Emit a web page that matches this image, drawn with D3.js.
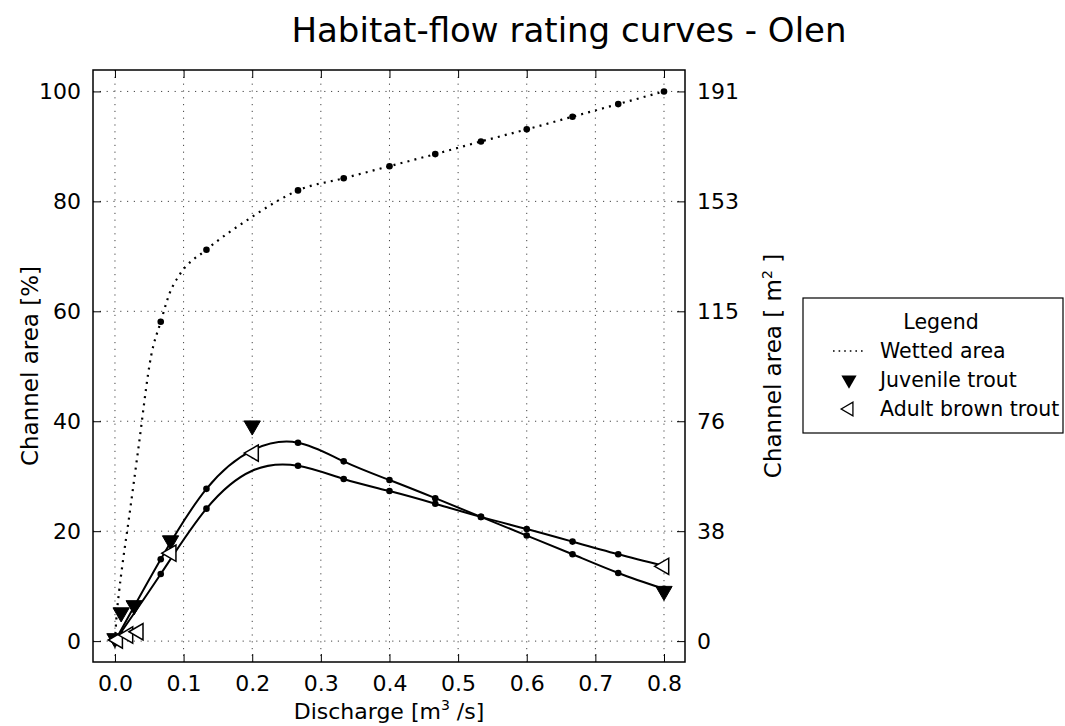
<!DOCTYPE html>
<html>
<head>
<meta charset="utf-8">
<script src="https://cdn.jsdelivr.net/npm/d3@7"></script>
<style>
  html, body { margin: 0; padding: 0; background: #fff; }
  svg { display: block; font-family: "DejaVu Sans", sans-serif; }
</style>
</head>
<body>
<svg id="chart" width="1065" height="726"></svg>
<script>
// ---------------- data ----------------
const title = "Habitat-flow rating curves - Olen";
const xTicks = [0.0, 0.1, 0.2, 0.3, 0.4, 0.5, 0.6, 0.7, 0.8];
const yTicks = [0, 20, 40, 60, 80, 100];
const yRightLabels = ["0", "38", "76", "115", "153", "191"];

// habitat curve samples (0.2 sample, no dot drawn there)
const curveX = [0, 0.0667, 0.1333, 0.2, 0.2667, 0.3333, 0.4, 0.4667, 0.5333, 0.6, 0.6667, 0.7333, 0.8];
const juvenileCurve = [0, 14.9, 27.7, 34.7, 36.1, 32.7, 29.3, 26.0, 22.6, 19.2, 15.8, 12.4, 9.5];
const adultCurve    = [0, 12.2, 24.1, 31.0, 31.9, 29.5, 27.3, 25.0, 22.6, 20.4, 18.1, 15.8, 13.7];
const hiddenDotX = [0.2];

// wetted-area dots
const wettedDotX = [0, 0.0667, 0.1333, 0.2667, 0.3333, 0.4, 0.4667, 0.5333, 0.6, 0.6667, 0.7333, 0.8];
const wettedDots = [0, 58.1, 71.2, 82.0, 84.2, 86.4, 88.6, 90.9, 93.1, 95.4, 97.7, 100];

// wetted-area dotted line
const wettedLineX = [0, 0.002, 0.006, 0.011, 0.02, 0.033, 0.053, 0.0667, 0.08, 0.095, 0.1333, 0.2, 0.2357, 0.2667, 0.3333, 0.4, 0.4667, 0.5333, 0.6, 0.6667, 0.7333, 0.8];
const wettedLineY = [0, 4, 9, 14, 22, 34, 52.1, 58.1, 63.4, 66.8, 71.2, 77.2, 80.0, 82.0, 84.2, 86.4, 88.6, 90.9, 93.1, 95.4, 97.7, 100];

// observed markers
const juvX = [0.0, 0.009, 0.028, 0.081, 0.2, 0.8];
const juvY = [0.5, 5.2, 6.5, 18.3, 39.2, 9.1];
const adultX = [0.004, 0.019, 0.034, 0.082, 0.202, 0.8];
const adultY = [0.2, 1.1, 1.7, 16.0, 34.2, 13.6];

const legendItems = ["Wetted area", "Juvenile trout", "Adult brown trout"];

// ---------------- layout ----------------
const L = 93, R = 685, T = 70, B = 662;
const svg = d3.select("#chart");
const x = d3.scaleLinear().domain([-0.032, 0.8306]).range([L, R]);
const y = d3.scaleLinear().domain([-3.8, 103.9]).range([B, T]);

// grid
const grid = svg.append("g").attr("stroke", "#444").attr("stroke-width", 1).attr("stroke-dasharray", "1.2,5.6");
grid.selectAll(".gx").data(xTicks).join("line")
  .attr("x1", d => x(d)).attr("x2", d => x(d)).attr("y1", T).attr("y2", B);
grid.selectAll(".gy").data(yTicks).join("line")
  .attr("x1", L).attr("x2", R).attr("y1", d => y(d)).attr("y2", d => y(d));

// axes (inward ticks)
const fmt = d3.format(".1f");
const axB = svg.append("g").attr("transform", `translate(0,${B})`)
  .call(d3.axisBottom(x).tickValues(xTicks).tickFormat(fmt).tickSizeInner(-8).tickSizeOuter(0).tickPadding(13));
const axT = svg.append("g").attr("transform", `translate(0,${T})`)
  .call(d3.axisTop(x).tickValues(xTicks).tickFormat("").tickSizeInner(-8).tickSizeOuter(0));
const axL = svg.append("g").attr("transform", `translate(${L},0)`)
  .call(d3.axisLeft(y).tickValues(yTicks).tickFormat(d3.format("d")).tickSizeInner(-8).tickSizeOuter(0).tickPadding(12));
const axR = svg.append("g").attr("transform", `translate(${R},0)`)
  .call(d3.axisRight(y).tickValues(yTicks).tickFormat((d, i) => yRightLabels[i]).tickSizeInner(-8).tickSizeOuter(0).tickPadding(12));
[axB, axT, axL, axR].forEach(a => {
  a.select(".domain").remove();
  a.selectAll(".tick line").attr("stroke", "#000").attr("stroke-width", 1);
  a.selectAll("text").attr("font-family", "DejaVu Sans").attr("font-size", 22).attr("fill", "#000");
});
axB.selectAll("text").attr("dy", "0.71em");

// frame
svg.append("rect").attr("x", L).attr("y", T).attr("width", R - L).attr("height", B - T)
  .attr("fill", "none").attr("stroke", "#000").attr("stroke-width", 1.5);

const plot = svg.append("g");

// wetted area dotted line
const wLine = d3.line().curve(d3.curveMonotoneX).x((d, i) => x(wettedLineX[i])).y(d => y(d));
plot.append("path").attr("d", wLine(wettedLineY)).attr("fill", "none")
  .attr("stroke", "#000").attr("stroke-width", 2.2).attr("stroke-dasharray", "2,5.2");
plot.selectAll(".wd").data(wettedDots).join("circle")
  .attr("cx", (d, i) => x(wettedDotX[i])).attr("cy", d => y(d)).attr("r", 3.3).attr("fill", "#000");

// habitat curves
const cLine = d3.line().curve(d3.curveNatural).x((d, i) => x(curveX[i])).y(d => y(d));
[juvenileCurve, adultCurve].forEach(arr => {
  plot.append("path").attr("d", cLine(arr)).attr("fill", "none").attr("stroke", "#000").attr("stroke-width", 2);
  const pts = arr.map((v, i) => [curveX[i], v]).filter(p => !hiddenDotX.includes(p[0]));
  plot.selectAll(null).data(pts).join("circle")
    .attr("cx", d => x(d[0])).attr("cy", d => y(d[1])).attr("r", 3.3).attr("fill", "#000");
});

// markers
const tri = d3.symbol().type(d3.symbolTriangle).size(115);
plot.selectAll(".jm").data(juvY).join("path")
  .attr("d", tri())
  .attr("transform", (d, i) => `translate(${x(juvX[i])},${y(d)}) rotate(180)`)
  .attr("fill", "#000").attr("stroke", "#000").attr("stroke-width", 1);
plot.selectAll(".am").data(adultY).join("path")
  .attr("d", tri())
  .attr("transform", (d, i) => `translate(${x(adultX[i])},${y(d)}) rotate(-90)`)
  .attr("fill", "#fff").attr("stroke", "#000").attr("stroke-width", 1.5);

// title & labels
svg.append("text").attr("x", 569).attr("y", 42).attr("text-anchor", "middle")
  .attr("font-size", 34).attr("fill", "#000").text(title);

svg.append("text").attr("transform", `translate(38,${(T + B) / 2}) rotate(-90)`)
  .attr("text-anchor", "middle").attr("font-size", 23).attr("fill", "#000").text("Channel area [%]");

const rl = svg.append("text").attr("transform", `translate(781,${(T + B) / 2}) rotate(-90)`)
  .attr("text-anchor", "middle").attr("font-size", 23).attr("fill", "#000");
rl.append("tspan").text("Channel area [ m");
rl.append("tspan").attr("font-size", 14).attr("dy", -9).text("2");
rl.append("tspan").attr("dy", 9).text(" ]");

const xl = svg.append("text").attr("x", (L + R) / 2).attr("y", 719)
  .attr("text-anchor", "middle").attr("font-size", 22).attr("fill", "#000");
xl.append("tspan").text("Discharge [m");
xl.append("tspan").attr("font-size", 14).attr("dy", -9).text("3");
xl.append("tspan").attr("dy", 9).text(" /s]");

// legend
const lg = svg.append("g");
lg.append("rect").attr("x", 803).attr("y", 298).attr("width", 260).attr("height", 135)
  .attr("fill", "#fff").attr("stroke", "#000").attr("stroke-width", 1.2);
lg.append("text").attr("x", 941).attr("y", 329).attr("text-anchor", "middle")
  .attr("font-size", 20.5).attr("fill", "#000").text("Legend");
const rowY = [351, 380, 409];
lg.selectAll(".lt").data(legendItems).join("text")
  .attr("x", 880).attr("y", (d, i) => rowY[i] + 7).attr("font-size", 20.5).attr("fill", "#000").text(d => d);
lg.append("line").attr("x1", 833).attr("x2", 866).attr("y1", rowY[0]).attr("y2", rowY[0])
  .attr("stroke", "#000").attr("stroke-width", 1.6).attr("stroke-dasharray", "1.6,4");
lg.append("path").attr("d", d3.symbol().type(d3.symbolTriangle).size(100)())
  .attr("transform", `translate(849,${rowY[1]}) rotate(180)`).attr("fill", "#000");
lg.append("path").attr("d", d3.symbol().type(d3.symbolTriangle).size(80)())
  .attr("transform", `translate(849,${rowY[2]}) rotate(-90)`).attr("fill", "#fff")
  .attr("stroke", "#000").attr("stroke-width", 1.3);
</script>
</body>
</html>
